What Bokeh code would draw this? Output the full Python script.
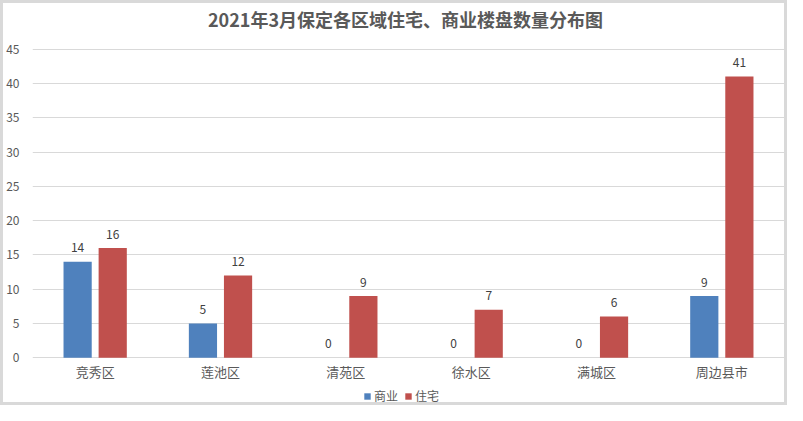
from bokeh.plotting import figure
from bokeh.models import ColumnDataSource, FixedTicker, Legend, LegendItem, Range1d
from bokeh.transform import dodge
from bokeh.core.properties import value
from bokeh.embed import file_html
from bokeh.resources import INLINE

categories = ["竞秀区", "莲池区", "清苑区", "徐水区", "满城区", "周边县市"]
commercial = [14, 5, 0, 0, 0, 9]
residential = [16, 12, 9, 7, 6, 41]
series_names = ["商业", "住宅"]
y_ticks = [0, 5, 10, 15, 20, 25, 30, 35, 40, 45]
title_text = "2021年3月保定各区域住宅、商业楼盘数量分布图"

BLUE = "#4F81BD"
RED = "#C0504D"
FONT = "Noto Sans CJK SC"

src = ColumnDataSource(dict(cat=categories, com=commercial, res=residential,
                            com_t=[str(v) for v in commercial],
                            res_t=[str(v) for v in residential]))

# frame extends above 45 and below 0 so title, category labels and legend live inside it
p = figure(x_range=categories, y_range=Range1d(-6.96, 51.66), width=787, height=405,
           output_backend="svg", toolbar_location=None,
           min_border_left=29, min_border_right=6, min_border_top=0, min_border_bottom=3)
p.styles = {"border": "3px solid #d9d9d9", "box-sizing": "border-box"}
p.outline_line_color = None
p.background_fill_color = "white"
p.border_fill_color = "white"

r1 = p.vbar(x=dodge("cat", -0.14, range=p.x_range), top="com", width=0.225, source=src,
            fill_color=BLUE, line_color=None)
r2 = p.vbar(x=dodge("cat", 0.14, range=p.x_range), top="res", width=0.225, source=src,
            fill_color=RED, line_color=None)

p.text(x=dodge("cat", -0.14, range=p.x_range), y="com", text="com_t", source=src,
       text_align="center", text_baseline="middle", y_offset=-14,
       text_font=value(FONT), text_font_size="12px", text_color="#404040")
p.text(x=dodge("cat", 0.14, range=p.x_range), y="res", text="res_t", source=src,
       text_align="center", text_baseline="middle", y_offset=-14,
       text_font=value(FONT), text_font_size="12px", text_color="#404040")

# category labels under the baseline
p.text(x="cat", y=0, text="cat", source=src, text_align="center", text_baseline="middle",
       y_offset=14, text_font=value(FONT), text_font_size="13px", text_color="#595959")

# chart title
p.text(x=[3.0], y=[49.44], text=[title_text], text_align="center", text_baseline="middle",
       x_offset=-3, text_font=value(FONT), text_font_size="18px", text_font_style="bold",
       text_color="#595959")

p.yaxis.ticker = FixedTicker(ticks=y_ticks)
p.yaxis.axis_line_color = None
p.yaxis.major_tick_line_color = None
p.yaxis.minor_tick_line_color = None
p.yaxis.major_label_standoff = 7
p.yaxis.major_label_text_font = FONT
p.yaxis.major_label_text_font_size = "12px"
p.yaxis.major_label_text_color = "#595959"

p.xaxis.visible = False

p.xgrid.grid_line_color = None
p.ygrid.grid_line_color = "#d9d9d9"
p.ygrid.ticker = FixedTicker(ticks=y_ticks)

legend = Legend(items=[LegendItem(label=series_names[0], renderers=[r1]),
                       LegendItem(label=series_names[1], renderers=[r2])],
                orientation="horizontal", location=(331, 1),
                glyph_width=8, glyph_height=8, label_standoff=3, spacing=6,
                padding=0, margin=0, border_line_color=None,
                background_fill_alpha=0,
                label_text_font=FONT, label_text_font_size="12px",
                label_text_color="#595959")
p.add_layout(legend, "center")

open("out.html", "w").write(file_html(p, INLINE))
